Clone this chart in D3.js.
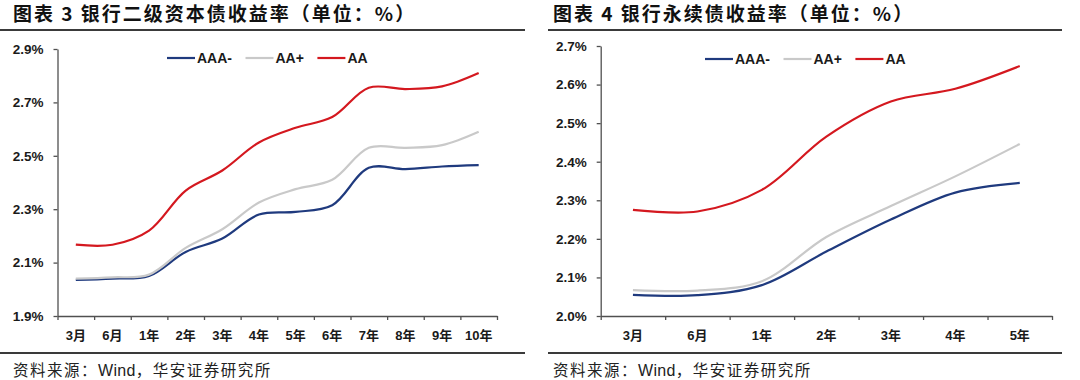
<!DOCTYPE html>
<html>
<head>
<meta charset="utf-8">
<script src="https://cdn.jsdelivr.net/npm/d3@7"></script>
<style>
  body { margin: 0; background: #fff; }
  svg text { font-family: "Liberation Sans", Arial, "Noto Sans CJK SC", sans-serif; }
  .title { font-family: "Noto Sans CJK SC", sans-serif !important; font-weight: bold; font-size: 19px; letter-spacing: 2px; fill: #111; }
  .source { font-family: "Noto Sans CJK SC", sans-serif !important; font-size: 15.5px; letter-spacing: 1.5px; fill: #222; }
  .source .latin { font-family: "Liberation Sans", Arial, sans-serif; letter-spacing: 0.3px; font-size: 16px; }
  .axis path, .axis line { stroke: #505050; stroke-width: 1.3; }
  .axis text { font-weight: bold; font-size: 13.5px; fill: #1a1a1a; }
  .xlabel { font-weight: bold; font-size: 13px; fill: #1a1a1a; }
  .legend text { font-weight: bold; font-size: 14px; fill: #1a1a1a; }
  .rule { stroke: #3a3a3a; stroke-width: 2; }
</style>
</head>
<body>
<svg id="chart" width="1080" height="380"></svg>
<script>
'use strict';

// 图表 3: 银行二级资本债收益率
const subTenors = ["3月", "6月", "1年", "2年", "3年", "4年", "5年", "6年", "7年", "8年", "9年", "10年"];
const subAAAminus = [2.035, 2.040, 2.050, 2.140, 2.190, 2.280, 2.290, 2.315, 2.455, 2.450, 2.460, 2.465];
const subAAplus  = [2.040, 2.045, 2.055, 2.155, 2.225, 2.325, 2.375, 2.410, 2.530, 2.530, 2.540, 2.590];
const subAA      = [2.167, 2.167, 2.220, 2.370, 2.445, 2.550, 2.605, 2.645, 2.755, 2.750, 2.760, 2.810];
const subYTicks  = [1.9, 2.1, 2.3, 2.5, 2.7, 2.9];

// 图表 4: 银行永续债收益率
const perpTenors = ["3月", "6月", "1年", "2年", "3年", "4年", "5年"];
const perpAAAminus = [2.055, 2.054, 2.080, 2.167, 2.250, 2.320, 2.345];
const perpAAplus  = [2.067, 2.066, 2.090, 2.205, 2.285, 2.362, 2.446];
const perpAA      = [2.275, 2.271, 2.327, 2.465, 2.556, 2.589, 2.648];
const perpYTicks  = [2.0, 2.1, 2.2, 2.3, 2.4, 2.5, 2.6, 2.7];

const seriesNames  = ["AAA-", "AA+", "AA"];
const seriesColors = ["#1f3a7e", "#c9c9c9", "#d4181f"];
// source line, split so the latin word keeps normal spacing
const sourceParts = [["资料来源：", ""], ["Wind", "latin"], ["，华安证券研究所", ""]];

const svg = d3.select('#chart');

function drawPanel(opt) {
  const g = svg.append('g');

  // title + rules
  g.append('text').attr('class', 'title')
    .attr('x', opt.titleX).attr('y', 21)
    .text(opt.title);
  g.append('line').attr('class', 'rule')
    .attr('x1', opt.ruleX[0]).attr('x2', opt.ruleX[1]).attr('y1', 30).attr('y2', 30);
  g.append('line').attr('class', 'rule')
    .attr('x1', opt.ruleX[0]).attr('x2', opt.ruleX[1]).attr('y1', 353).attr('y2', 353);
  const src = g.append('text').attr('class', 'source')
    .attr('x', opt.titleX).attr('y', 376);
  src.selectAll('tspan').data(sourceParts).enter().append('tspan')
    .attr('class', d => d[1])
    .text(d => d[0]);

  const ticks = opt.yTicks;
  const y = d3.scaleLinear()
    .domain([ticks[0], ticks[ticks.length - 1]])
    .range([opt.y0, opt.y1]);

  const n = opt.categories.length;
  const band = d3.scaleBand().domain(opt.categories).range([opt.x0, opt.x1]).padding(0);
  const xi = d3.scaleLinear().domain([0, n]).range([opt.x0, opt.x1]);

  // x axis: ticks on category boundaries
  g.append('g').attr('class', 'axis')
    .attr('transform', `translate(0,${opt.y0})`)
    .call(d3.axisBottom(xi).tickValues(d3.range(n + 1)).tickSize(4).tickSizeOuter(0).tickFormat(''));

  g.append('g').selectAll('text')
    .data(opt.categories).enter().append('text')
    .attr('class', 'xlabel')
    .attr('x', d => band(d) + band.bandwidth() / 2)
    .attr('y', 340)
    .attr('text-anchor', 'middle')
    .text(d => d);

  // y axis
  g.append('g').attr('class', 'axis')
    .attr('transform', `translate(${opt.x0},0)`)
    .call(d3.axisLeft(y).tickValues(ticks).tickSize(4).tickSizeOuter(0).tickPadding(10)
      .tickFormat(d => d.toFixed(1) + '%'));

  // lines
  const line = d3.line()
    .x((d, i) => band(opt.categories[i]) + band.bandwidth() / 2)
    .y(d => y(d))
    .curve(d3.curveCatmullRom);

  opt.series.forEach((s, i) => {
    g.append('path')
      .attr('d', line(s))
      .attr('fill', 'none')
      .attr('stroke', seriesColors[i])
      .attr('stroke-width', 2.2)
      .attr('stroke-linejoin', 'round');
  });

  // legend
  const legend = g.append('g').attr('class', 'legend');
  let lx = opt.legendX;
  seriesNames.forEach((name, i) => {
    legend.append('line')
      .attr('x1', lx).attr('x2', lx + 28)
      .attr('y1', opt.legendY).attr('y2', opt.legendY)
      .attr('stroke', seriesColors[i]).attr('stroke-width', 2.2);
    const t = legend.append('text')
      .attr('x', lx + 30).attr('y', opt.legendY + 5)
      .text(name);
    lx += 30 + t.node().getComputedTextLength() + 13.5;
  });
}

drawPanel({
  title: '图表 3 银行二级资本债收益率（单位：%）',
  titleX: 13, ruleX: [0, 525],
  categories: subTenors,
  series: [subAAAminus, subAAplus, subAA],
  yTicks: subYTicks,
  x0: 57.5, x1: 497, y0: 316, y1: 49,
  legendX: 167, legendY: 58
});

drawPanel({
  title: '图表 4 银行永续债收益率（单位：%）',
  titleX: 553, ruleX: [548, 1062],
  categories: perpTenors,
  series: [perpAAAminus, perpAAplus, perpAA],
  yTicks: perpYTicks,
  x0: 600.7, x1: 1052, y0: 316, y1: 46,
  legendX: 705, legendY: 59
});
</script>
</body>
</html>
